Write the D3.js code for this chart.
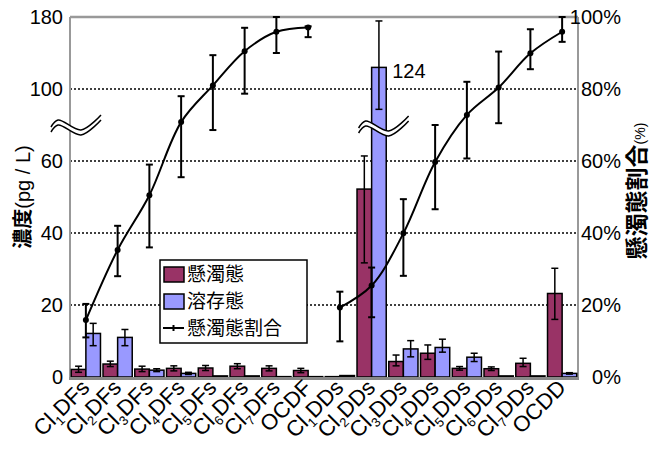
<!DOCTYPE html>
<html>
<head>
<meta charset="utf-8">
<script src="https://cdn.jsdelivr.net/npm/d3@7"></script>
<style>
  body { margin: 0; background: #fff; }
  text { font-family: "Liberation Sans", Arial, sans-serif; }
  .cjk { font-family: "Noto Sans CJK JP", "Noto Sans CJK SC", sans-serif; }
</style>
</head>
<body>
<div id="chart"></div>
<script>
// categories (x axis)
const categories = ["Cl1DFs", "Cl2DFs", "Cl3DFs", "Cl4DFs", "Cl5DFs", "Cl6DFs", "Cl7DFs", "OCDF",
                    "Cl1DDs", "Cl2DDs", "Cl3DDs", "Cl4DDs", "Cl5DDs", "Cl6DDs", "Cl7DDs", "OCDD"];

// suspended (懸濁態) concentration, pg/L, with error range
const suspended   = [2.1, 3.6, 2.2, 2.4, 2.5, 3.0, 2.4, 1.8, 0.1, 52.2, 4.3, 6.6, 2.4, 2.3, 3.8, 23.2];
const suspendedLo = [1.3, 2.9, 1.5, 1.7, 1.8, 2.3, 1.7, 1.2, 0.1, 31.7, 3.1, 4.9, 1.9, 1.8, 2.9, 16.0];
const suspendedHi = [3.0, 4.4, 3.0, 3.1, 3.2, 3.7, 3.1, 2.4, 0.1, 62.8, 6.1, 8.9, 2.9, 2.8, 5.2, 30.2];

// dissolved (溶存態) concentration, pg/L, with error range
const dissolved   = [12.1, 11.0, 1.9, 1.0, 0.3, 0.3, 0.1, 0.1, 0.4, 124, 7.8, 8.2, 5.5, 0.3, 0.3, 1.0];
const dissolvedLo = [8.7, 8.7, 1.5, 0.7, 0.3, 0.3, 0.1, 0.1, 0.4, 88.7, 5.6, 6.9, 4.3, 0.3, 0.3, 0.8];
const dissolvedHi = [14.9, 13.2, 2.3, 1.3, 0.3, 0.3, 0.1, 0.1, 0.4, 175.6, 10.1, 10.5, 6.6, 0.3, 0.3, 1.2];

// suspended ratio (懸濁態割合), %
const ratioDF   = [15.8, 35.3, 50.5, 70.8, 81.0, 90.5, 95.9, 97.1];
const ratioDFLo = [11.0, 28.0, 36.0, 55.5, 68.6, 78.7, 90.0, 94.4];
const ratioDFHi = [20.3, 42.0, 59.0, 78.0, 89.4, 97.0, 100, 97.4];
const ratioDD   = [19.3, 25.4, 39.9, 59.7, 72.8, 80.4, 89.9, 95.9];
const ratioDDLo = [9.9, 16.6, 28.1, 46.6, 60.7, 70.5, 85.5, 93.1];
const ratioDDHi = [23.7, 30.4, 49.4, 70.0, 82.0, 90.4, 96.6, 100];

const leftTicks = [0, 20, 40, 60, 100, 180];
const rightTicks = [0, 20, 40, 60, 80, 100];
const gridTicks = [20, 40, 60, 80];

const W = 664, H = 450;
const pLeft = 70, pRight = 578, pTop = 17, pBottom = 377;
const purple = "#993366", blue = "#9999ff";

const svg = d3.select("#chart").append("svg").attr("width", W).attr("height", H);

const x = d3.scaleBand().domain(categories).range([pLeft, pRight]).paddingInner(0.08).paddingOuter(0.04);
const x1 = d3.scaleBand().domain(["s", "d"]).range([0, x.bandwidth()]);
// broken left axis: 0-60 and 100-180
const yL = d3.scaleLinear().domain([0, 60, 100, 180]).range([pBottom, 161, 89, pTop]);
const yR = d3.scaleLinear().domain([0, 100]).range([pBottom, pTop]);
const cx = c => x(c) + x.bandwidth() / 2;

// grid
svg.append("g").selectAll("line").data(gridTicks).join("line")
  .attr("x1", pLeft).attr("x2", pRight)
  .attr("y1", d => yR(d)).attr("y2", d => yR(d))
  .attr("stroke", "#000").attr("stroke-width", 1.5).attr("stroke-dasharray", "2,2");

// frame
svg.append("line").attr("x1", pLeft).attr("x2", pRight).attr("y1", pTop).attr("y2", pTop)
  .attr("stroke", "#999").attr("stroke-width", 2.5);
svg.append("line").attr("x1", pRight).attr("x2", pRight).attr("y1", pTop).attr("y2", pBottom + 2)
  .attr("stroke", "#999").attr("stroke-width", 2);
svg.append("line").attr("x1", pLeft).attr("x2", pLeft).attr("y1", pTop).attr("y2", pBottom + 2)
  .attr("stroke", "#999").attr("stroke-width", 2);

// bars
const bars = svg.append("g");
function drawBars(vals, lo, hi, key, color) {
  const g = bars.append("g");
  g.selectAll("rect").data(categories).join("rect")
    .attr("x", c => x(c) + x1(key))
    .attr("width", x1.bandwidth())
    .attr("y", (c, i) => yL(vals[i]))
    .attr("height", (c, i) => Math.max(0.5, pBottom - yL(vals[i])))
    .attr("fill", color).attr("stroke", "#000").attr("stroke-width", 1.5);
  const pts = categories.map((c, i) => ({ c, lo: lo[i], hi: hi[i] })).filter(d => d.hi - d.lo > 0.3);
  const e = g.selectAll("g").data(pts).join("g")
    .attr("transform", d => `translate(${x(d.c) + x1(key) + x1.bandwidth() / 2},0)`);
  e.append("line").attr("y1", d => yL(d.lo)).attr("y2", d => yL(d.hi))
    .attr("stroke", "#000").attr("stroke-width", 1.5);
  ["lo", "hi"].forEach(k => e.append("line").attr("x1", -3.5).attr("x2", 3.5)
    .attr("y1", d => yL(d[k])).attr("y2", d => yL(d[k]))
    .attr("stroke", "#000").attr("stroke-width", 1.5));
}
drawBars(suspended, suspendedLo, suspendedHi, "s", purple);
drawBars(dissolved, dissolvedLo, dissolvedHi, "d", blue);

svg.append("line").attr("x1", pLeft - 1).attr("x2", pRight + 1).attr("y1", pBottom + 1.5).attr("y2", pBottom + 1.5)
  .attr("stroke", "#888").attr("stroke-width", 3);

// ratio lines
const line = d3.line().x(d => cx(d.c)).y(d => yR(d.v)).curve(d3.curveCatmullRom);
function drawRatio(cats, vals, lo, hi) {
  const pts = cats.map((c, i) => ({ c, v: vals[i], lo: lo[i], hi: hi[i] }));
  const g = svg.append("g");
  const e = g.selectAll("g").data(pts).join("g").attr("transform", d => `translate(${cx(d.c)},0)`);
  e.append("line").attr("y1", d => yR(d.lo)).attr("y2", d => yR(d.hi)).attr("stroke", "#000").attr("stroke-width", 2);
  e.append("line").attr("x1", -3.5).attr("x2", 3.5).attr("y1", d => yR(d.lo)).attr("y2", d => yR(d.lo))
    .attr("stroke", "#000").attr("stroke-width", 2);
  e.append("line").attr("x1", -3.5).attr("x2", 3.5).attr("y1", d => yR(d.hi)).attr("y2", d => yR(d.hi))
    .attr("stroke", "#000").attr("stroke-width", 2);
  g.append("path").datum(pts).attr("d", line).attr("fill", "none").attr("stroke", "#000").attr("stroke-width", 2);
  g.selectAll("circle").data(pts).join("circle").attr("cx", d => cx(d.c)).attr("cy", d => yR(d.v)).attr("r", 3);
}
drawRatio(categories.slice(0, 8), ratioDF, ratioDFLo, ratioDFHi);
drawRatio(categories.slice(8), ratioDD, ratioDDLo, ratioDDHi);

// axis break marks
function breakMark(x0, y0) {
  const top1 = [[x0 - 21, y0 + 4], [x0 - 14, y0 - 3], [x0 + 9, y0 + 7], [x0 + 29, y0 - 8]];
  const bot1 = top1.map(p => [p[0], p[1] + 5]);
  const l = d3.line().curve(d3.curveCatmullRom);
  const g = svg.append("g");
  g.append("path").attr("d", l(top1) + "L" + l(bot1.slice().reverse()).slice(1) + "Z")
    .attr("fill", "#fff").attr("stroke", "none");
  g.append("path").attr("d", l(top1)).attr("fill", "none").attr("stroke", "#000").attr("stroke-width", 1.5);
  g.append("path").attr("d", l(bot1)).attr("fill", "none").attr("stroke", "#000").attr("stroke-width", 1.5);
}
breakMark(pLeft + 2, 123);
breakMark(x(categories[9]) + x1("d") + 8, 124);

// label for off-scale bar
svg.append("text").attr("x", x(categories[9]) + x1("d") + x1.bandwidth() + 6).attr("y", yL(dissolved[9]) + 11)
  .attr("font-size", 20).text(dissolved[9]);

// left axis ticks
svg.append("g").selectAll("text").data(leftTicks).join("text")
  .attr("x", 63).attr("y", d => yL(d) + 7).attr("text-anchor", "end").attr("font-size", 20)
  .text(d => d);

// right axis ticks
svg.append("g").selectAll("text").data(rightTicks).join("text")
  .attr("x", 621).attr("y", d => yR(d) + 7).attr("text-anchor", "end").attr("font-size", 20)
  .text(d => d + "%");

// x labels
const xl = svg.append("g").selectAll("text").data(categories).join("text")
  .attr("transform", c => `translate(${cx(c) + 5},389) rotate(-45)`)
  .attr("text-anchor", "end").attr("font-size", 22);
xl.each(function (c) {
  const m = c.match(/^(Cl)(\d)(.*)$/);
  const t = d3.select(this);
  if (!m) { t.text(c); return; }
  t.append("tspan").text(m[1]);
  t.append("tspan").attr("font-size", 13).attr("dy", 5).text(m[2]);
  t.append("tspan").attr("dy", -5).text(m[3]);
});

// axis titles
const lt = svg.append("text").attr("transform", "translate(30,197) rotate(-90)").attr("text-anchor", "middle");
lt.append("tspan").attr("class", "cjk").attr("font-size", 20).attr("font-weight", "bold").text("濃度");
lt.append("tspan").attr("font-size", 20).text("(pg / L)");

const rt = svg.append("text").attr("transform", "translate(645,191) rotate(-90)").attr("text-anchor", "middle");
rt.append("tspan").attr("class", "cjk").attr("font-size", 23).attr("font-weight", "bold").text("懸濁態割合");
rt.append("tspan").attr("font-size", 14).text("(%)");

// legend
const lg = svg.append("g").attr("transform", "translate(160,260)");
lg.append("rect").attr("width", 147).attr("height", 83).attr("fill", "#fff").attr("stroke", "#000").attr("stroke-width", 1.5);
const legendItems = [["懸濁態", purple], ["溶存態", blue], ["懸濁態割合", null]];
legendItems.forEach(([label, color], i) => {
  const yy = 14 + i * 27;
  if (color) {
    lg.append("rect").attr("x", 4).attr("y", yy - 7).attr("width", 20).attr("height", 15)
      .attr("fill", color).attr("stroke", "#000").attr("stroke-width", 1.5);
  } else {
    lg.append("line").attr("x1", 3).attr("x2", 24).attr("y1", yy).attr("y2", yy).attr("stroke", "#000").attr("stroke-width", 2);
    lg.append("line").attr("x1", 13.5).attr("x2", 13.5).attr("y1", yy - 3).attr("y2", yy + 3).attr("stroke", "#000").attr("stroke-width", 2);
  }
  lg.append("text").attr("class", "cjk").attr("x", 27).attr("y", yy + 7).attr("font-size", 19).text(label);
});
</script>
</body>
</html>
